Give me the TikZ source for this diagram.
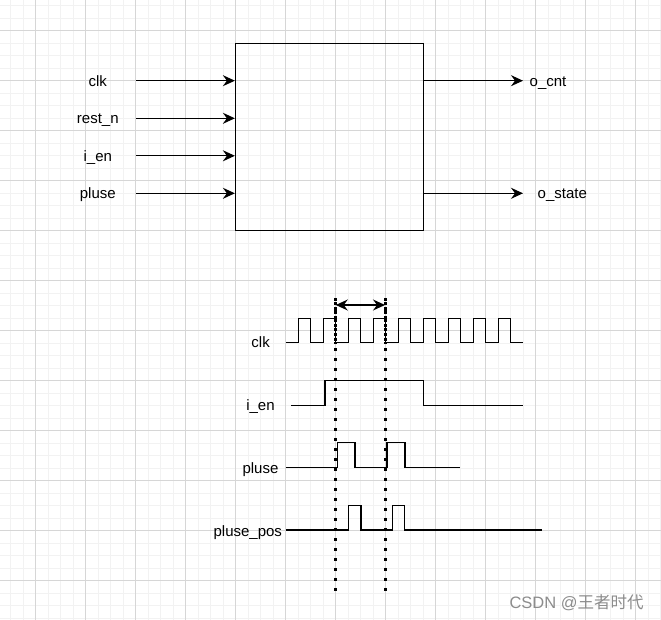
\documentclass[tikz,border=0pt]{standalone}
\usepackage{fontspec}
\setmainfont{Liberation Sans}
\newfontfamily\cjk{Noto Sans CJK SC}
\usetikzlibrary{arrows.meta}
\tikzset{
	gridmin/.style={line width=0.8pt, color=black!5},
	gridmaj/.style={line width=0.8pt, color=black!16},
	lbl/.style={inner sep=0pt, anchor=base, font=\fontsize{15}{18}\selectfont},
	sig/.style={line width=1.25pt, -{Stealth[length=12pt,width=11pt,inset=4pt]}},
	both/.style={line width=1.25pt, {Stealth[length=12pt,width=11pt,inset=4pt]}-{Stealth[length=12pt,width=11pt,inset=4pt]}},
	blk/.style={draw, line width=1.25pt, minimum width=187.8pt, minimum height=187pt, inner sep=0pt},
	wave/.style={line width=1.25pt, line join=miter},
	dotline/.style={line width=2.6pt, dash pattern=on 2.6pt off 7.4pt},
	dotdense/.style={line width=2.4pt, dash pattern=on 2.4pt off 2pt}
}

\begin{document}
\begin{tikzpicture}[x=1pt, y=-1pt]
			%%%%% PAGE + GRID %%%%%
			\fill[white] (0,0) rectangle (661,620);
			\useasboundingbox (0,0) rectangle (661,620);
			
			\foreach \x in {-2,10.5,...,661} \draw[gridmin] (\x,0) -- (\x,620);
			\foreach \y in {-7,5.5,...,620} \draw[gridmin] (0,\y) -- (661,\y);
			\foreach \x in {35.5,85.5,...,661} \draw[gridmaj] (\x,0) -- (\x,620);
			\foreach \y in {30.5,80.5,...,620} \draw[gridmaj] (0,\y) -- (661,\y);
			
			%%%%% BLOCK %%%%%
			\node[blk] (mod) at (329.4,136.8) {};
			
			\foreach \nm/\txt/\yy in {clk/clk/80.7, rstn/rest\_n/118.3, ien/i\_en/155.8, pls/pluse/193.3}{
				\node[lbl] (\nm) at (97.8,\yy+5.5) {\txt};
				\coordinate (\nm s) at (136,\yy);
				\draw[sig] (\nm s) -- (\nm s -| mod.west);
			}
			
			\coordinate (cnte) at (523,80.7);
			\draw[sig] (cnte -| mod.east) -- (cnte);
			\node[lbl, anchor=base west] (ocnt) at (529.5,86.2) {o\_cnt};
			
			\coordinate (state) at (523,193.3);
			\draw[sig] (state -| mod.east) -- (state);
			\node[lbl, anchor=base west] (ostate) at (537.5,198.8) {o\_state};
			
			%%%%% TIMING %%%%%
			\node[lbl] (tclk) at (260.6,347.8) {clk};
			\draw[wave] (286,342.3) \foreach \k in {0,...,8}{
				-- ({298.3+25*\k},342.3) -- ++(0,-24) -- ++(12.2,0) -- ++(0,24)} -- (523.3,342.3);
			
			\node[lbl] (tien) at (260.5,410.8) {i\_en};
			\draw[wave] (291,405.7) -- (325,405.7) -- (325,380.3) -- (423.3,380.3) -- (423.3,405.7) -- (523.3,405.7);
			
			\node[lbl] (tpls) at (260.5,473.3) {pluse};
			\draw[wave] (286,467.7) -- (337.3,467.7) -- (337.3,442.7) -- (355,442.7) -- (355,467.7)
				-- (387,467.7) -- (387,442.7) -- (405,442.7) -- (405,467.7) -- (460,467.7);
			
			\node[lbl] (tpos) at (247.8,536) {pluse\_pos};
			\draw[wave] (286,530) -- (348.7,530) -- (348.7,505.3) -- (361,505.3) -- (361,530)
				-- (392.3,530) -- (392.3,505.3) -- (404.3,505.3) -- (404.3,530) -- (542.3,530);
			
			% one period
			\foreach \nm/\x in {ma/335.5, mb/385.3}{
				\coordinate (\nm t) at (\x,298);
				\coordinate (\nm b) at (\x,593);
				\coordinate (\nm d) at (\x,345);
				\draw[dotline] (\nm t) -- (\nm b);
				\draw[dotdense] (\nm t) -- (\nm d);
			}
			\coordinate (pa) at (335.8,305);
			\coordinate (pb) at (385,305);
			\draw[both] (pa) -- (pb);
			
			%%%%% MARK %%%%%
			\node[inner sep=0pt, anchor=base west, text=black!45, font=\fontsize{16.5}{18}\selectfont] (mark) at (509.3,608.5) {CSDN @{\cjk 王者时代}};
\end{tikzpicture}
\end{document}
